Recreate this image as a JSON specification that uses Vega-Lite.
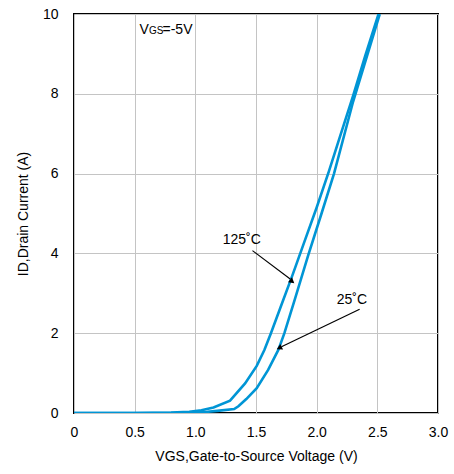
{
  "$schema": "https://vega.github.io/schema/vega-lite/v6.json",
  "width": 364,
  "height": 399,
  "autosize": {"type": "none"},
  "padding": {"left": 74, "top": 14, "right": 16, "bottom": 61},
  "config": {
    "font": "Liberation Sans",
    "view": {"stroke": "black", "strokeWidth": 2},
    "axis": {"domain": false, "ticks": false, "gridColor": "#c4c4c4", "gridWidth": 1, "labelFont": "Liberation Sans", "labelFontSize": 14, "labelColor": "#000000", "titleFont": "Liberation Sans", "titleFontSize": 14, "titleFontWeight": "normal", "titleColor": "#000000"}
  },
  "datasets": {
    "curves": [
      {"series": "125", "v": 0.0, "id": 0.0},
      {"series": "125", "v": 0.5, "id": 0.0},
      {"series": "125", "v": 0.8, "id": 0.01},
      {"series": "125", "v": 0.95, "id": 0.03},
      {"series": "125", "v": 1.05, "id": 0.07},
      {"series": "125", "v": 1.15, "id": 0.14},
      {"series": "125", "v": 1.286, "id": 0.31},
      {"series": "125", "v": 1.41, "id": 0.74},
      {"series": "125", "v": 1.506, "id": 1.18},
      {"series": "125", "v": 1.569, "id": 1.58},
      {"series": "125", "v": 1.623, "id": 2.0},
      {"series": "125", "v": 1.7, "id": 2.63},
      {"series": "125", "v": 1.8, "id": 3.45},
      {"series": "125", "v": 1.9, "id": 4.3},
      {"series": "125", "v": 2.0, "id": 5.15},
      {"series": "125", "v": 2.1, "id": 6.05},
      {"series": "125", "v": 2.2, "id": 7.0},
      {"series": "125", "v": 2.3, "id": 7.95},
      {"series": "125", "v": 2.4, "id": 8.95},
      {"series": "125", "v": 2.51, "id": 10.0},
      {"series": "25", "v": 0.0, "id": 0.0},
      {"series": "25", "v": 0.9, "id": 0.0},
      {"series": "25", "v": 1.0, "id": 0.01},
      {"series": "25", "v": 1.1, "id": 0.03},
      {"series": "25", "v": 1.2, "id": 0.06},
      {"series": "25", "v": 1.32, "id": 0.1},
      {"series": "25", "v": 1.355, "id": 0.17},
      {"series": "25", "v": 1.42, "id": 0.35},
      {"series": "25", "v": 1.506, "id": 0.62},
      {"series": "25", "v": 1.6, "id": 1.08},
      {"series": "25", "v": 1.684, "id": 1.58},
      {"series": "25", "v": 1.734, "id": 2.0},
      {"series": "25", "v": 1.82, "id": 2.85},
      {"series": "25", "v": 1.93, "id": 3.95},
      {"series": "25", "v": 2.04, "id": 5.0},
      {"series": "25", "v": 2.143, "id": 6.0},
      {"series": "25", "v": 2.3, "id": 7.8},
      {"series": "25", "v": 2.52, "id": 10.0}
    ]
  },
  "layer": [
    {
      "data": {"name": "curves"},
      "mark": {"type": "line", "color": "#0095d5", "strokeWidth": 2.6, "clip": true},
      "encoding": {
        "x": {"field": "v", "type": "quantitative", "scale": {"domain": [0, 3], "nice": false}, "axis": {"values": [0, 0.5, 1, 1.5, 2, 2.5, 3], "labelExpr": "datum.value == 0 ? '0' : format(datum.value, '.1f')", "labelPadding": 12, "title": "VGS,Gate-to-Source Voltage (V)", "titlePadding": 10, "labelFlush": false}},
        "y": {"field": "id", "type": "quantitative", "scale": {"domain": [0, 10], "nice": false}, "axis": {"values": [0, 2, 4, 6, 8, 10], "labelPadding": 16, "title": "ID,Drain Current (A)", "titlePadding": 12}},
        "detail": {"field": "series"}
      }
    },
    {
      "data": {"values": [
        {"x1": 1.471, "y1": 4.07, "x2": 1.782, "y2": 3.36},
        {"x1": 2.354, "y1": 2.6, "x2": 1.71, "y2": 1.66}
      ]},
      "mark": {"type": "rule", "color": "black", "strokeWidth": 1.2},
      "encoding": {
        "x": {"field": "x1", "type": "quantitative"},
        "y": {"field": "y1", "type": "quantitative"},
        "x2": {"field": "x2"},
        "y2": {"field": "y2"}
      }
    },
    {
      "data": {"values": [{"x": 1.792, "y": 3.31}]},
      "mark": {"type": "point", "shape": "triangle", "filled": true, "color": "black", "size": 40, "angle": 128, "opacity": 1},
      "encoding": {"x": {"field": "x", "type": "quantitative"}, "y": {"field": "y", "type": "quantitative"}}
    },
    {
      "data": {"values": [{"x": 1.698, "y": 1.64}]},
      "mark": {"type": "point", "shape": "triangle", "filled": true, "color": "black", "size": 40, "angle": 244, "opacity": 1},
      "encoding": {"x": {"field": "x", "type": "quantitative"}, "y": {"field": "y", "type": "quantitative"}}
    },
    {
      "data": {"values": [
        {"x": 1.226, "y": 4.34, "label": "125˚C"},
        {"x": 2.165, "y": 2.83, "label": "25˚C"}
      ]},
      "mark": {"type": "text", "align": "left", "baseline": "middle", "fontSize": 14, "color": "black"},
      "encoding": {"x": {"field": "x", "type": "quantitative"}, "y": {"field": "y", "type": "quantitative"}, "text": {"field": "label"}}
    },
    {
      "data": {"values": [{"x": 0.54, "y": 9.6, "label": "V"}]},
      "mark": {"type": "text", "align": "left", "baseline": "middle", "fontSize": 14, "color": "black"},
      "encoding": {"x": {"field": "x", "type": "quantitative"}, "y": {"field": "y", "type": "quantitative"}, "text": {"field": "label"}}
    },
    {
      "data": {"values": [{"x": 0.54, "y": 9.6, "label": "GS"}]},
      "mark": {"type": "text", "align": "left", "baseline": "middle", "fontSize": 10, "dx": 9.5, "dy": 1, "color": "black"},
      "encoding": {"x": {"field": "x", "type": "quantitative"}, "y": {"field": "y", "type": "quantitative"}, "text": {"field": "label"}}
    },
    {
      "data": {"values": [{"x": 0.54, "y": 9.6, "label": "=-5V"}]},
      "mark": {"type": "text", "align": "left", "baseline": "middle", "fontSize": 14, "dx": 23, "color": "black"},
      "encoding": {"x": {"field": "x", "type": "quantitative"}, "y": {"field": "y", "type": "quantitative"}, "text": {"field": "label"}}
    }
  ]
}
